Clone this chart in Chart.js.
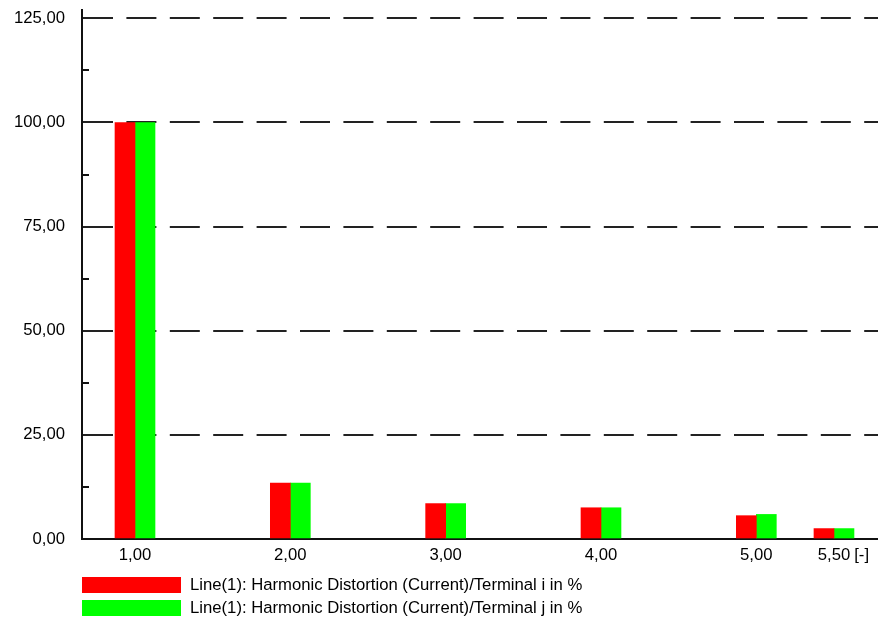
<!DOCTYPE html>
<html>
<head>
<meta charset="utf-8">
<script src="https://cdn.jsdelivr.net/npm/chart.js@4/dist/chart.umd.min.js"></script>
<style>
  html, body { margin: 0; padding: 0; background: #fff; }
  #wrap { position: relative; width: 878px; height: 618px; }
  canvas { display: block; }
  .lg { position: absolute; left: 82px; height: 16px; display: flex; align-items: flex-start;
        font-family: "Liberation Sans", Arial, sans-serif; font-size: 16.7px; line-height: 16px; color: #000; white-space: nowrap; }
  .sw { width: 99px; height: 16px; margin-right: 9px; flex: none; }
</style>
</head>
<body>
<div id="wrap">
  <canvas id="c" width="878" height="618"></canvas>
  <div class="lg" style="top:577px"><span class="sw" style="background:#ff0000"></span><span id="l1"></span></div>
  <div class="lg" style="top:600px"><span class="sw" style="background:#00ff00"></span><span id="l2"></span></div>
</div>
<script>
// ---- data ----
const harmonicOrders = [1, 2, 3, 4, 5, 5.5];
const terminalI = [100, 13.4, 8.5, 7.5, 5.6, 2.5];
const terminalJ = [100, 13.4, 8.5, 7.5, 5.9, 2.5];
const yTickValues = [0, 12.5, 25, 37.5, 50, 62.5, 75, 87.5, 100, 112.5, 125];
const seriesLabels = [
  'Line(1): Harmonic Distortion (Current)/Terminal i in %',
  'Line(1): Harmonic Distortion (Current)/Terminal j in %'
];
const xUnit = '[-]';

document.getElementById('l1').textContent = seriesLabels[0];
document.getElementById('l2').textContent = seriesLabels[1];

const fmt = v => v.toFixed(2).replace('.', ',');
const FS = 16.7;
const FONT = { family: '"Liberation Sans", Arial, sans-serif', size: FS };

const extras = {
  id: 'extras',
  afterDraw(chart) {
    const ctx = chart.ctx;
    const y = chart.scales.y, x = chart.scales.x;
    ctx.save();
    // minor ticks inside the plot
    ctx.strokeStyle = '#111';
    ctx.lineWidth = 2;
    yTickValues.forEach(v => {
      if (v % 25 !== 0) {
        const py = Math.round(y.getPixelForValue(v));
        ctx.beginPath();
        ctx.moveTo(chart.chartArea.left, py);
        ctx.lineTo(chart.chartArea.left + 7, py);
        ctx.stroke();
      }
    });
    // unit after last x label
    ctx.font = FS + 'px "Liberation Sans", Arial, sans-serif';
    ctx.fillStyle = '#000';
    ctx.textBaseline = 'middle';
    ctx.textAlign = 'left';
    const last = harmonicOrders[harmonicOrders.length - 1];
    const px = x.getPixelForValue(last);
    const w = ctx.measureText(fmt(last)).width;
    const ly = x.top + 6 + FS * 1.2 / 2;
    ctx.fillText(xUnit, px + w / 2 + 4, ly);
    ctx.restore();
  }
};

new Chart(document.getElementById('c'), {
  type: 'bar',
  data: {
    datasets: [
      { label: seriesLabels[0], data: harmonicOrders.map((h, i) => ({ x: h, y: terminalI[i] })),
        backgroundColor: '#ff0000', borderWidth: 0, barThickness: 20 },
      { label: seriesLabels[1], data: harmonicOrders.map((h, i) => ({ x: h, y: terminalJ[i] })),
        backgroundColor: '#00ff00', borderWidth: 0, barThickness: 20 }
    ]
  },
  options: {
    responsive: false,
    animation: false,
    layout: { padding: { top: 10, left: 0, right: 0, bottom: 0 } },
    plugins: { legend: { display: false }, tooltip: { enabled: false } },
    scales: {
      x: {
        type: 'linear',
        offset: false,
        min: 0.6588,
        max: 5.7834,
        grid: { display: false, offset: false, drawTicks: false },
        border: { display: true, color: '#111', width: 2 },
        afterBuildTicks: s => { s.ticks = harmonicOrders.map(v => ({ value: v })); },
        afterFit: s => { s.height = 79; s.paddingLeft = 0; s.paddingRight = 0; },
        ticks: {
          autoSkip: false, maxRotation: 0, minRotation: 0, padding: 6,
          color: '#000', font: FONT,
          callback: v => fmt(v)
        }
      },
      y: {
        min: 0,
        max: 127,
        grid: {
          drawTicks: false,
          lineWidth: 2,
          color: c => (c.tick && c.tick.value % 25 === 0 && c.tick.value > 0) ? '#222' : 'rgba(0,0,0,0)'
        },
        border: { display: true, color: '#111', width: 2, dash: [30, 13.4] },
        afterBuildTicks: s => { s.ticks = yTickValues.map(v => ({ value: v })); },
        afterFit: s => { s.width = 82; s.paddingTop = 0; s.paddingBottom = 0; },
        ticks: {
          autoSkip: false, padding: 17, color: '#000', font: FONT,
          callback: v => (v % 25 === 0 ? fmt(v) : '')
        }
      }
    }
  },
  plugins: [extras]
});
</script>
</body>
</html>
